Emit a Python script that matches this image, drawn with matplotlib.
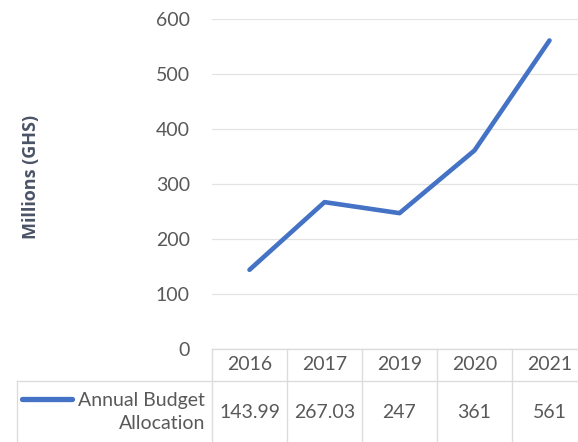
import matplotlib.pyplot as plt
import matplotlib.transforms as mtransforms

# data
years = ['2016', '2017', '2019', '2020', '2021']
budget = [143.99, 267.03, 247, 361, 561]
budget_labels = ['143.99', '267.03', '247', '361', '561']
series_name = 'Annual Budget\nAllocation'

line_color = '#4472C4'
text_color = '#595959'
grid_color = '#E3E3E3'

plt.rcParams['font.family'] = ['Lato', 'DejaVu Sans']

fig = plt.figure(figsize=(5.78, 4.42), dpi=100)
ax = fig.add_axes([212 / 578, 1 - 349 / 442, 375 / 578, 330 / 442])

x = list(range(len(years)))
ax.plot(x, budget, color=line_color, lw=3.3, solid_capstyle='round',
        solid_joinstyle='round', zorder=3)

ax.set_xlim(-0.5, len(years) - 0.5)
ax.set_ylim(0, 600)
ax.set_yticks(range(0, 601, 100))
ax.yaxis.grid(True, color=grid_color, lw=0.9)
ax.set_axisbelow(True)
ax.tick_params(axis='y', length=0, pad=16, labelsize=14, labelcolor=text_color)
ax.set_xticks([])
for s in ax.spines.values():
    s.set_visible(False)

fig.text(31 / 578, 1 - 177 / 442, 'Millions (GHS)', rotation=90, ha='center',
         va='center', fontsize=13, fontweight='bold', color='#4A5466',
         family=['Open Sans', 'DejaVu Sans'])

# data table under the plot
trans = mtransforms.blended_transform_factory(ax.transData, ax.transAxes)
row1 = -32 / 330
bottom = -100 / 330
left = -3.1
right = len(years) - 0.5
kw = dict(transform=trans, clip_on=False, color='#DCDCDC', lw=1.0)
ax.plot([-0.5, right], [0, 0], **kw)
ax.plot([left, right], [row1, row1], **kw)
ax.plot([left, left], [row1, bottom], **kw)
for i in range(len(years) + 1):
    ax.plot([i - 0.5, i - 0.5], [0, bottom], **kw)

for i, (yr, lab) in enumerate(zip(years, budget_labels)):
    ax.text(i, -16 / 330, yr, transform=trans, ha='center', va='center',
            fontsize=14, color=text_color)
    ax.text(i, -63 / 330, lab, transform=trans, ha='center', va='center',
            fontsize=14, color=text_color)

ax.text(-0.59, -63 / 330, series_name, transform=trans, ha='right',
        va='center', fontsize=14, color=text_color, multialignment='right',
        linespacing=1.45)
ax.plot([-3.03, -2.37], [-50 / 330, -50 / 330], transform=trans,
        clip_on=False, color=line_color, lw=3.8, solid_capstyle='round')

fig.savefig('out.png', dpi=100)
